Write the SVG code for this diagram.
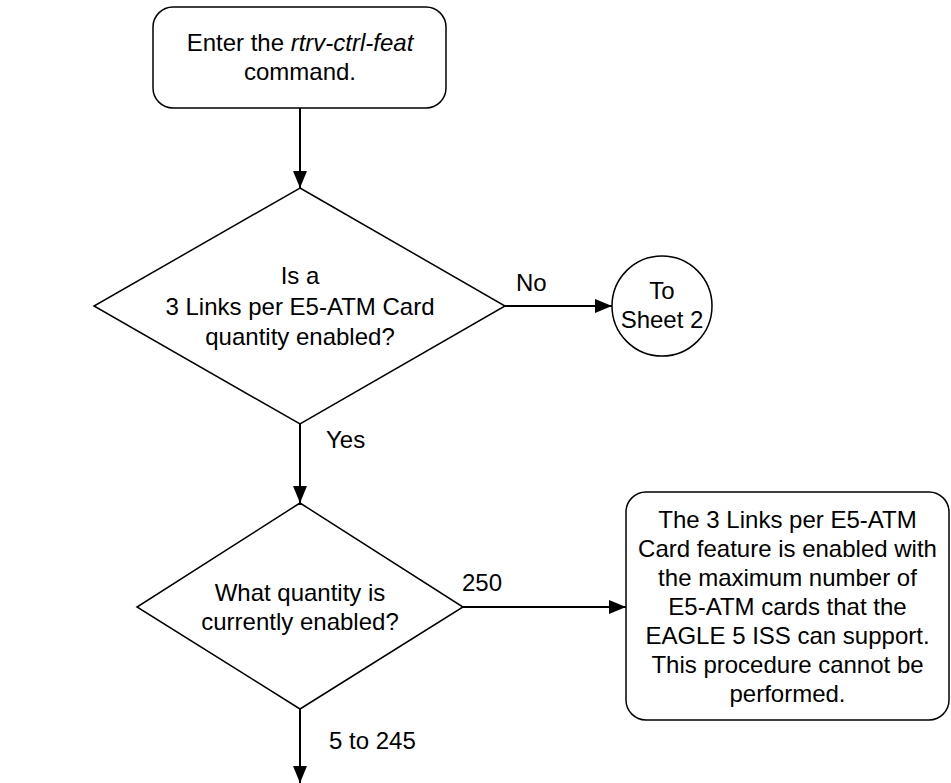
<svg xmlns="http://www.w3.org/2000/svg" width="951" height="783" viewBox="0 0 951 783">
<style>
.s{fill:#fff;stroke:#000;stroke-width:1.5}
.t{font-family:"Liberation Sans",Arial,sans-serif;font-size:24px;fill:#000;text-anchor:middle}
.l{font-family:"Liberation Sans",Arial,sans-serif;font-size:24px;fill:#000}
.c{fill:none;stroke:#000;stroke-width:2}
</style>
<defs>
<marker id="a" markerUnits="userSpaceOnUse" markerWidth="18" markerHeight="14" refX="17" refY="7" orient="auto">
<path d="M0,0 L17,7 L0,14 z" fill="#000"/>
</marker>
</defs>
<rect width="951" height="783" fill="#fff"/>
<g id="connectors">
<line class="c" x1="300" y1="108" x2="300" y2="188" marker-end="url(#a)"/>
<line class="c" x1="505" y1="306" x2="612" y2="306" marker-end="url(#a)"/>
<line class="c" x1="300" y1="424" x2="300" y2="503" marker-end="url(#a)"/>
<line class="c" x1="463" y1="607" x2="626" y2="607" marker-end="url(#a)"/>
<line class="c" x1="300" y1="709" x2="300" y2="783" marker-end="url(#a)"/>
<text class="l" x="516" y="291">No</text>
<text class="l" x="326" y="448">Yes</text>
<text class="l" x="462" y="591">250</text>
<text class="l" x="329" y="749">5 to 245</text>
</g>
<g id="start">
<rect class="s" x="153" y="7" width="293" height="101" rx="20"/>
<text class="t" x="300" y="51">Enter the <tspan font-style="italic">rtrv-ctrl-feat</tspan></text>
<text class="t" x="300" y="80">command.</text>
</g>
<g id="decision1">
<polygon class="s" points="300,188 505,306 300,424 94,306"/>
<text class="t" x="300" y="284">Is a</text>
<text class="t" x="300" y="315">3 Links per E5-ATM Card</text>
<text class="t" x="300" y="345">quantity enabled?</text>
</g>
<g id="sheet2">
<circle class="s" cx="662" cy="306" r="50"/>
<text class="t" x="662" y="299">To</text>
<text class="t" x="662" y="328">Sheet 2</text>
</g>
<g id="decision2">
<polygon class="s" points="300,503 463,607 300,709 137,607"/>
<text class="t" x="300" y="601">What quantity is</text>
<text class="t" x="300" y="630">currently enabled?</text>
</g>
<g id="endbox">
<rect class="s" x="626" y="492" width="323" height="228" rx="20"/>
<text class="t" x="787.5" y="528">The 3 Links per E5-ATM</text>
<text class="t" x="787.5" y="557">Card feature is enabled with</text>
<text class="t" x="787.5" y="586">the maximum number of</text>
<text class="t" x="787.5" y="615">E5-ATM cards that the</text>
<text class="t" x="787.5" y="644">EAGLE 5 ISS can support.</text>
<text class="t" x="787.5" y="673">This procedure cannot be</text>
<text class="t" x="787.5" y="702">performed.</text>
</g>
</svg>
